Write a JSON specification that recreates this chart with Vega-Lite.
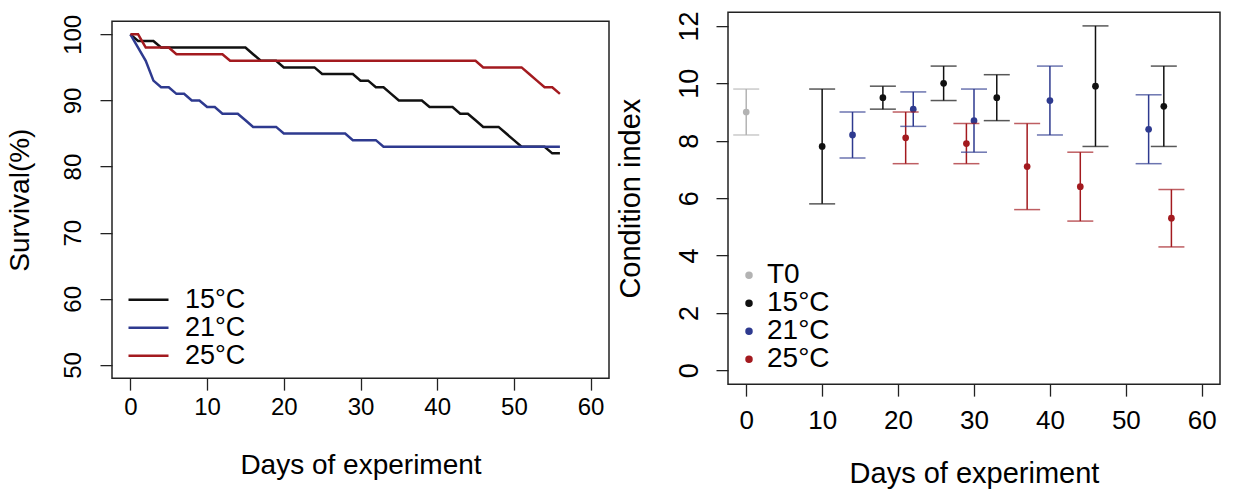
{
  "$schema": "https://vega.github.io/schema/vega-lite/v6.json",
  "padding": {"left": 5, "top": 10, "right": 0, "bottom": 0},
  "background": "white",
  "center": true,
  "spacing": 5,
  "config": {
    "font": "Liberation Sans",
    "view": {"stroke": "#222222", "strokeWidth": 1.5},
    "axis": {
      "grid": false,
      "domain": false,
      "tickColor": "#222222",
      "tickSize": 12,
      "tickWidth": 1.3,
      "labelColor": "black",
      "titleColor": "black",
      "titleFontWeight": "normal",
      "labelFont": "Liberation Sans",
      "titleFont": "Liberation Sans"
    },
    "legend": {
      "orient": "none",
      "padding": 0,
      "labelFont": "Liberation Sans",
      "labelColor": "black",
      "title": null
    }
  },
  "datasets": {
    "survival": [
      {"day": 0, "temp": "15°C", "survival": 100}, {"day": 1, "temp": "15°C", "survival": 99}, {"day": 2, "temp": "15°C", "survival": 99}, {"day": 3, "temp": "15°C", "survival": 99}, {"day": 4, "temp": "15°C", "survival": 98}, {"day": 5, "temp": "15°C", "survival": 98}, {"day": 6, "temp": "15°C", "survival": 98}, {"day": 7, "temp": "15°C", "survival": 98}, {"day": 8, "temp": "15°C", "survival": 98}, {"day": 9, "temp": "15°C", "survival": 98}, {"day": 10, "temp": "15°C", "survival": 98}, {"day": 11, "temp": "15°C", "survival": 98}, {"day": 12, "temp": "15°C", "survival": 98}, {"day": 13, "temp": "15°C", "survival": 98}, {"day": 14, "temp": "15°C", "survival": 98}, {"day": 15, "temp": "15°C", "survival": 98}, {"day": 16, "temp": "15°C", "survival": 97}, {"day": 17, "temp": "15°C", "survival": 96}, {"day": 18, "temp": "15°C", "survival": 96}, {"day": 19, "temp": "15°C", "survival": 96}, {"day": 20, "temp": "15°C", "survival": 95}, {"day": 21, "temp": "15°C", "survival": 95}, {"day": 22, "temp": "15°C", "survival": 95}, {"day": 23, "temp": "15°C", "survival": 95}, {"day": 24, "temp": "15°C", "survival": 95}, {"day": 25, "temp": "15°C", "survival": 94}, {"day": 26, "temp": "15°C", "survival": 94}, {"day": 27, "temp": "15°C", "survival": 94}, {"day": 28, "temp": "15°C", "survival": 94}, {"day": 29, "temp": "15°C", "survival": 94}, {"day": 30, "temp": "15°C", "survival": 93}, {"day": 31, "temp": "15°C", "survival": 93}, {"day": 32, "temp": "15°C", "survival": 92}, {"day": 33, "temp": "15°C", "survival": 92}, {"day": 34, "temp": "15°C", "survival": 91}, {"day": 35, "temp": "15°C", "survival": 90}, {"day": 36, "temp": "15°C", "survival": 90}, {"day": 37, "temp": "15°C", "survival": 90}, {"day": 38, "temp": "15°C", "survival": 90}, {"day": 39, "temp": "15°C", "survival": 89}, {"day": 40, "temp": "15°C", "survival": 89}, {"day": 41, "temp": "15°C", "survival": 89}, {"day": 42, "temp": "15°C", "survival": 89}, {"day": 43, "temp": "15°C", "survival": 88}, {"day": 44, "temp": "15°C", "survival": 88}, {"day": 45, "temp": "15°C", "survival": 87}, {"day": 46, "temp": "15°C", "survival": 86}, {"day": 47, "temp": "15°C", "survival": 86}, {"day": 48, "temp": "15°C", "survival": 86}, {"day": 49, "temp": "15°C", "survival": 85}, {"day": 50, "temp": "15°C", "survival": 84}, {"day": 51, "temp": "15°C", "survival": 83}, {"day": 52, "temp": "15°C", "survival": 83}, {"day": 53, "temp": "15°C", "survival": 83}, {"day": 54, "temp": "15°C", "survival": 83}, {"day": 55, "temp": "15°C", "survival": 82}, {"day": 56, "temp": "15°C", "survival": 82},
      {"day": 0, "temp": "21°C", "survival": 100}, {"day": 1, "temp": "21°C", "survival": 98}, {"day": 2, "temp": "21°C", "survival": 96}, {"day": 3, "temp": "21°C", "survival": 93}, {"day": 4, "temp": "21°C", "survival": 92}, {"day": 5, "temp": "21°C", "survival": 92}, {"day": 6, "temp": "21°C", "survival": 91}, {"day": 7, "temp": "21°C", "survival": 91}, {"day": 8, "temp": "21°C", "survival": 90}, {"day": 9, "temp": "21°C", "survival": 90}, {"day": 10, "temp": "21°C", "survival": 89}, {"day": 11, "temp": "21°C", "survival": 89}, {"day": 12, "temp": "21°C", "survival": 88}, {"day": 13, "temp": "21°C", "survival": 88}, {"day": 14, "temp": "21°C", "survival": 88}, {"day": 15, "temp": "21°C", "survival": 87}, {"day": 16, "temp": "21°C", "survival": 86}, {"day": 17, "temp": "21°C", "survival": 86}, {"day": 18, "temp": "21°C", "survival": 86}, {"day": 19, "temp": "21°C", "survival": 86}, {"day": 20, "temp": "21°C", "survival": 85}, {"day": 21, "temp": "21°C", "survival": 85}, {"day": 22, "temp": "21°C", "survival": 85}, {"day": 23, "temp": "21°C", "survival": 85}, {"day": 24, "temp": "21°C", "survival": 85}, {"day": 25, "temp": "21°C", "survival": 85}, {"day": 26, "temp": "21°C", "survival": 85}, {"day": 27, "temp": "21°C", "survival": 85}, {"day": 28, "temp": "21°C", "survival": 85}, {"day": 29, "temp": "21°C", "survival": 84}, {"day": 30, "temp": "21°C", "survival": 84}, {"day": 31, "temp": "21°C", "survival": 84}, {"day": 32, "temp": "21°C", "survival": 84}, {"day": 33, "temp": "21°C", "survival": 83}, {"day": 34, "temp": "21°C", "survival": 83}, {"day": 35, "temp": "21°C", "survival": 83}, {"day": 36, "temp": "21°C", "survival": 83}, {"day": 37, "temp": "21°C", "survival": 83}, {"day": 38, "temp": "21°C", "survival": 83}, {"day": 39, "temp": "21°C", "survival": 83}, {"day": 40, "temp": "21°C", "survival": 83}, {"day": 41, "temp": "21°C", "survival": 83}, {"day": 42, "temp": "21°C", "survival": 83}, {"day": 43, "temp": "21°C", "survival": 83}, {"day": 44, "temp": "21°C", "survival": 83}, {"day": 45, "temp": "21°C", "survival": 83}, {"day": 46, "temp": "21°C", "survival": 83}, {"day": 47, "temp": "21°C", "survival": 83}, {"day": 48, "temp": "21°C", "survival": 83}, {"day": 49, "temp": "21°C", "survival": 83}, {"day": 50, "temp": "21°C", "survival": 83}, {"day": 51, "temp": "21°C", "survival": 83}, {"day": 52, "temp": "21°C", "survival": 83}, {"day": 53, "temp": "21°C", "survival": 83}, {"day": 54, "temp": "21°C", "survival": 83}, {"day": 55, "temp": "21°C", "survival": 83}, {"day": 56, "temp": "21°C", "survival": 83},
      {"day": 0, "temp": "25°C", "survival": 100}, {"day": 1, "temp": "25°C", "survival": 100}, {"day": 2, "temp": "25°C", "survival": 98}, {"day": 3, "temp": "25°C", "survival": 98}, {"day": 4, "temp": "25°C", "survival": 98}, {"day": 5, "temp": "25°C", "survival": 98}, {"day": 6, "temp": "25°C", "survival": 97}, {"day": 7, "temp": "25°C", "survival": 97}, {"day": 8, "temp": "25°C", "survival": 97}, {"day": 9, "temp": "25°C", "survival": 97}, {"day": 10, "temp": "25°C", "survival": 97}, {"day": 11, "temp": "25°C", "survival": 97}, {"day": 12, "temp": "25°C", "survival": 97}, {"day": 13, "temp": "25°C", "survival": 96}, {"day": 14, "temp": "25°C", "survival": 96}, {"day": 15, "temp": "25°C", "survival": 96}, {"day": 16, "temp": "25°C", "survival": 96}, {"day": 17, "temp": "25°C", "survival": 96}, {"day": 18, "temp": "25°C", "survival": 96}, {"day": 19, "temp": "25°C", "survival": 96}, {"day": 20, "temp": "25°C", "survival": 96}, {"day": 21, "temp": "25°C", "survival": 96}, {"day": 22, "temp": "25°C", "survival": 96}, {"day": 23, "temp": "25°C", "survival": 96}, {"day": 24, "temp": "25°C", "survival": 96}, {"day": 25, "temp": "25°C", "survival": 96}, {"day": 26, "temp": "25°C", "survival": 96}, {"day": 27, "temp": "25°C", "survival": 96}, {"day": 28, "temp": "25°C", "survival": 96}, {"day": 29, "temp": "25°C", "survival": 96}, {"day": 30, "temp": "25°C", "survival": 96}, {"day": 31, "temp": "25°C", "survival": 96}, {"day": 32, "temp": "25°C", "survival": 96}, {"day": 33, "temp": "25°C", "survival": 96}, {"day": 34, "temp": "25°C", "survival": 96}, {"day": 35, "temp": "25°C", "survival": 96}, {"day": 36, "temp": "25°C", "survival": 96}, {"day": 37, "temp": "25°C", "survival": 96}, {"day": 38, "temp": "25°C", "survival": 96}, {"day": 39, "temp": "25°C", "survival": 96}, {"day": 40, "temp": "25°C", "survival": 96}, {"day": 41, "temp": "25°C", "survival": 96}, {"day": 42, "temp": "25°C", "survival": 96}, {"day": 43, "temp": "25°C", "survival": 96}, {"day": 44, "temp": "25°C", "survival": 96}, {"day": 45, "temp": "25°C", "survival": 96}, {"day": 46, "temp": "25°C", "survival": 95}, {"day": 47, "temp": "25°C", "survival": 95}, {"day": 48, "temp": "25°C", "survival": 95}, {"day": 49, "temp": "25°C", "survival": 95}, {"day": 50, "temp": "25°C", "survival": 95}, {"day": 51, "temp": "25°C", "survival": 95}, {"day": 52, "temp": "25°C", "survival": 94}, {"day": 53, "temp": "25°C", "survival": 93}, {"day": 54, "temp": "25°C", "survival": 92}, {"day": 55, "temp": "25°C", "survival": 92}, {"day": 56, "temp": "25°C", "survival": 91}
    ],
    "condition": [
      {"day": 0, "group": "T0", "mean": 9.0, "lower": 8.2, "upper": 9.8},
      {"day": 10, "group": "15°C", "mean": 7.8, "lower": 5.8, "upper": 9.8},
      {"day": 18, "group": "15°C", "mean": 9.5, "lower": 9.1, "upper": 9.9},
      {"day": 26, "group": "15°C", "mean": 10.0, "lower": 9.4, "upper": 10.6},
      {"day": 33, "group": "15°C", "mean": 9.5, "lower": 8.7, "upper": 10.3},
      {"day": 46, "group": "15°C", "mean": 9.9, "lower": 7.8, "upper": 12.0},
      {"day": 55, "group": "15°C", "mean": 9.2, "lower": 7.8, "upper": 10.6},
      {"day": 14, "group": "21°C", "mean": 8.2, "lower": 7.4, "upper": 9.0},
      {"day": 22, "group": "21°C", "mean": 9.1, "lower": 8.5, "upper": 9.7},
      {"day": 30, "group": "21°C", "mean": 8.7, "lower": 7.6, "upper": 9.8},
      {"day": 40, "group": "21°C", "mean": 9.4, "lower": 8.2, "upper": 10.6},
      {"day": 53, "group": "21°C", "mean": 8.4, "lower": 7.2, "upper": 9.6},
      {"day": 21, "group": "25°C", "mean": 8.1, "lower": 7.2, "upper": 9.0},
      {"day": 29, "group": "25°C", "mean": 7.9, "lower": 7.2, "upper": 8.6},
      {"day": 37, "group": "25°C", "mean": 7.1, "lower": 5.6, "upper": 8.6},
      {"day": 44, "group": "25°C", "mean": 6.4, "lower": 5.2, "upper": 7.6},
      {"day": 56, "group": "25°C", "mean": 5.3, "lower": 4.3, "upper": 6.3}
    ]
  },
  "resolve": {"scale": {"color": "independent"}},
  "hconcat": [
    {
      "width": 497,
      "height": 357,
      "data": {"name": "survival"},
      "mark": {"type": "line", "strokeWidth": 2.5},
      "encoding": {
        "x": {
          "field": "day", "type": "quantitative",
          "scale": {"domain": [-2.4, 62.4], "nice": false, "zero": false},
          "axis": {"values": [0, 10, 20, 30, 40, 50, 60], "title": "Days of experiment", "labelFontSize": 24, "titleFontSize": 28, "labelPadding": 5, "titlePadding": 32, "labelFlush": false}
        },
        "y": {
          "field": "survival", "type": "quantitative",
          "scale": {"domain": [48, 102], "nice": false, "zero": false},
          "axis": {"values": [50, 60, 70, 80, 90, 100], "title": "Survival(%)", "labelFontSize": 24, "titleFontSize": 28, "labelAngle": 270, "labelAlign": "center", "labelBaseline": "alphabetic", "labelPadding": 20, "titlePadding": 27, "labelFlush": false}
        },
        "color": {
          "field": "temp", "type": "nominal",
          "scale": {"domain": ["15°C", "21°C", "25°C"], "range": ["#111111", "#2E3A8F", "#A31A1F"]},
          "legend": {"legendX": 23, "legendY": 265, "symbolType": "M-2,0H2", "symbolSize": 400, "symbolStrokeWidth": 2.5, "labelFontSize": 27, "labelOffset": 23, "rowPadding": 0}
        }
      }
    },
    {
      "width": 492,
      "height": 372,
      "data": {"name": "condition"},
      "encoding": {
        "x": {
          "field": "day", "type": "quantitative",
          "scale": {"domain": [-2.4, 62.4], "nice": false, "zero": false},
          "axis": {"values": [0, 10, 20, 30, 40, 50, 60], "title": "Days of experiment", "labelFontSize": 26, "titleFontSize": 29, "labelPadding": 11, "titlePadding": 26, "labelFlush": false}
        },
        "y": {
          "scale": {"domain": [-0.48, 12.48], "nice": false, "zero": false},
          "axis": {"values": [0, 2, 4, 6, 8, 10, 12], "title": "Condition index", "labelFontSize": 27, "titleFontSize": 29, "labelAngle": 270, "labelAlign": "center", "labelBaseline": "alphabetic", "labelPadding": 19, "titlePadding": 30, "labelFlush": false}
        },
        "color": {
          "field": "group", "type": "nominal",
          "scale": {"domain": ["T0", "15°C", "21°C", "25°C"], "range": ["#B3B3B3", "#111111", "#2E3A8F", "#A31A1F"]},
          "legend": {"legendX": 7, "legendY": 249, "symbolType": "circle", "symbolSize": 36, "labelFontSize": 28, "labelOffset": 4, "rowPadding": 0}
        }
      },
      "layer": [
        {
          "mark": {"type": "point", "filled": true, "opacity": 1, "size": 45},
          "encoding": {
            "y": {"field": "mean", "type": "quantitative"}
          }
        },
        {
          "mark": {"type": "rule", "strokeWidth": 1.5},
          "encoding": {
            "y": {"field": "lower", "type": "quantitative"},
            "y2": {"field": "upper"}
          }
        },
        {
          "mark": {"type": "tick", "orient": "horizontal", "size": 26, "thickness": 1.5},
          "encoding": {
            "y": {"field": "lower", "type": "quantitative"}
          }
        },
        {
          "mark": {"type": "tick", "orient": "horizontal", "size": 26, "thickness": 1.5},
          "encoding": {
            "y": {"field": "upper", "type": "quantitative"}
          }
        }
      ]
    }
  ]
}
